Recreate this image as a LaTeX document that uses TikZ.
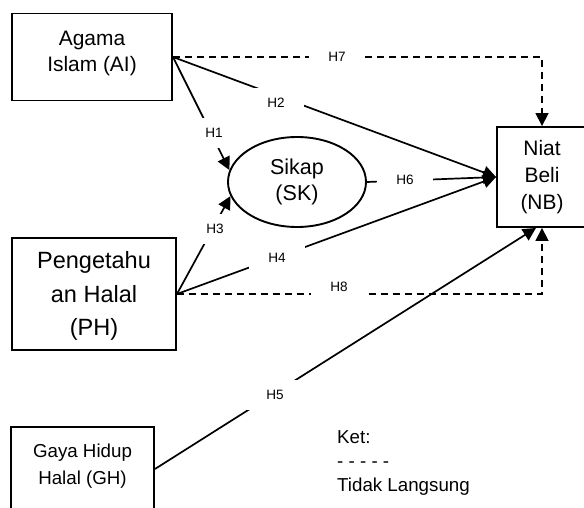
\documentclass[tikz,border=0pt]{standalone}
\usepackage{fontspec}
\setmainfont{Liberation Sans}
\usetikzlibrary{arrows.meta,shapes.geometric}

\begin{document}
\begin{tikzpicture}[x=1bp,y=-1bp,
    box/.style={draw,line width=1.9bp,align=center,inner sep=0pt},
    link/.style={line width=1.7bp},
    arr/.style={link,-{Triangle[length=13bp,width=13bp]}},
    ind/.style={arr,dash pattern=on 7bp off 5bp},
    lbl/.style={fill=white,inner sep=0pt,minimum width=56bp,minimum height=30bp,font=\fontsize{13.6}{16}\selectfont}]
    \useasboundingbox (0,0) rectangle (584,508);

    \node[box,minimum width=160bp,minimum height=87bp,text depth=12bp,font=\fontsize{21}{26}\selectfont] (ai) at (92,57) {Agama\\Islam (AI)};
    \node[box,minimum width=164bp,minimum height=112bp,text depth=1bp,font=\fontsize{23.6}{33.5}\selectfont] (ph) at (94,294) {Pengetahu\\an Halal\\(PH)};
    \node[box,minimum width=143bp,minimum height=84bp,text depth=10bp,font=\fontsize{18.8}{27}\selectfont] (gh) at (82.5,469) {Gaya Hidup\\Halal (GH)};
    \node[box,minimum width=90bp,minimum height=100bp,font=\fontsize{21}{27}\selectfont] (nb) at (542,177) {Niat\\Beli\\(NB)};
    \node[box,ellipse,minimum width=138bp,minimum height=90bp,font=\fontsize{21.6}{26}\selectfont] (sk) at (297,182) {Sikap\\(SK)};

    \draw[ind] (ai.east) -| (nb.north);
    \draw[arr] (ai.east) -- (nb.west);
    \draw[arr] (ai.east) -- (sk.170);
    \draw[arr] (ph.east) -- (sk.192);
    \draw[arr] (ph.east) -- (nb.west);
    \draw[ind] (ph.east) -| (nb.south);
    \draw[arr] (sk.east) -- (nb.west);
    \draw[arr] (gh.east) -- ([xshift=-6bp]nb.south);

    \node[lbl] (h7) at (337,57) {H7};
    \node[lbl] (h2) at (276,103) {H2};
    \node[lbl] (h1) at (214,133) {H1};
    \node[lbl] (h3) at (215,229) {H3};
    \node[lbl] (h4) at (277,258) {H4};
    \node[lbl] (h8) at (339,287) {H8};
    \node[lbl] (h6) at (405,180) {H6};
    \node[lbl] (h5) at (275,395) {H5};

    \node[anchor=west,align=left,inner sep=0pt,font=\fontsize{18.8}{24.5}\selectfont] (ket) at (337,463) {Ket:\\- - - - -\\Tidak Langsung};
\end{tikzpicture}
\end{document}
